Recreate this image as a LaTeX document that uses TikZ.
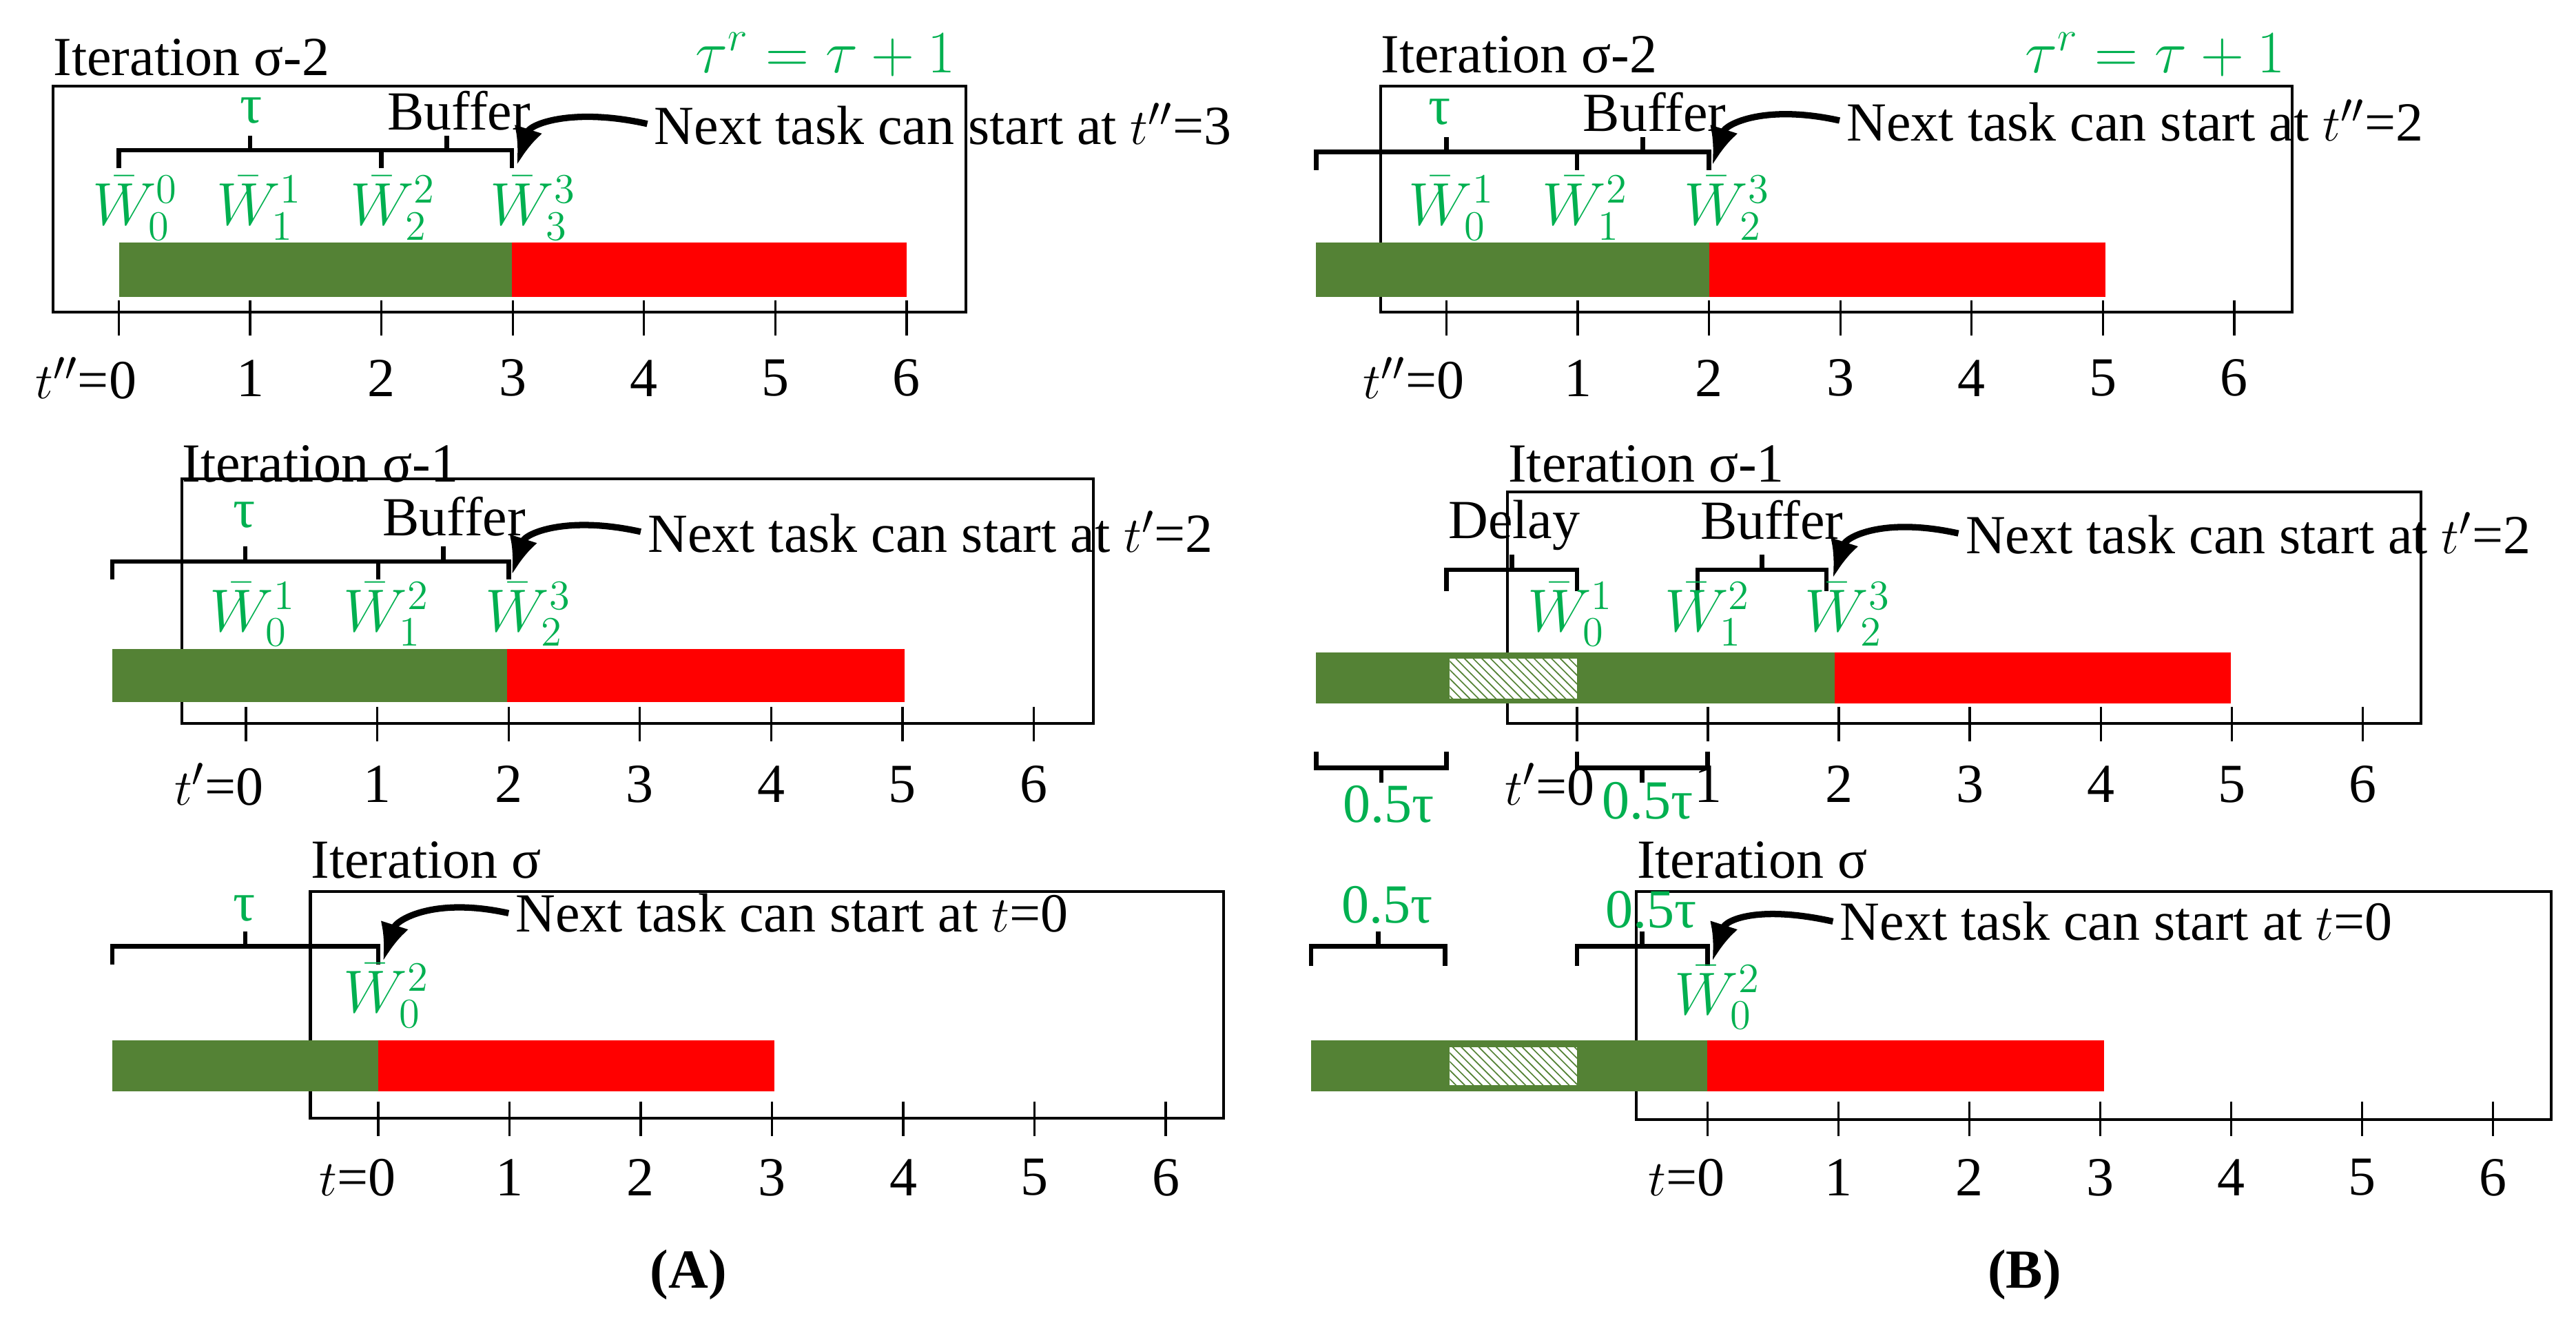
\documentclass[tikz,border=0pt]{standalone}
\usepackage{fontspec}
\setmainfont{Liberation Serif}
\usetikzlibrary{arrows.meta,patterns}
\definecolor{tg}{RGB}{0,176,80}
\definecolor{dg}{RGB}{84,130,53}
\definecolor{rd}{RGB}{255,0,0}
\tikzset{
 lbl/.style={font=\fontsize{19}{21}\selectfont, inner sep=0pt},
 gl/.style={lbl,text=tg},
 gm/.style={inner sep=0pt,text=tg,font=\fontsize{21}{23}\selectfont},
 box/.style={line width=1pt},
 br/.style={line width=1.6pt},
 tk/.style={line width=0.8pt},
 arr/.style={line width=2.2pt,-{Latex[length=13pt,width=10pt]}},
 hatch/.style={fill=white,postaction={pattern=north west lines,pattern color=dg}}
}
\newcommand\brk[4]{\draw[br] (#1,#4) -- (#1,#3) -- (#2,#3) -- (#2,#4); \draw[br] ({(#1+#2)/2},#3) -- ({(#1+#2)/2},#3-9);}
\newcommand\brkd[4]{\draw[br] (#1,#4) -- (#1,#3) -- (#2,#3) -- (#2,#4); \draw[br] ({(#1+#2)/2},#3) -- ({(#1+#2)/2},#3+9);}
\begin{document}
\begin{tikzpicture}[x=0.02cm,y=-0.02cm]
\useasboundingbox (0,0) rectangle (1560,798);
% ================= Panel A top
\node[lbl,anchor=west] (at) at (32,35) {Iteration σ-2};
\node[gm] (atr) at (500,33) {$\tau^r=\tau+1$};
\draw[box] (32,52) rectangle (585,189);
\fill[dg] (72,147) rectangle (310,180);
\fill[rd] (310,147) rectangle (549,180);
\foreach \i in {0,...,6} {\draw[tk] (72+79.5*\i,182) -- (72+79.5*\i,203);}
\foreach \i in {1,...,6} {\node[lbl] (atl\i) at (72+79.5*\i,229) {\i};}
\node[lbl,anchor=east] (atl0) at (83,229) {$t''$=0};
\brk{72}{231}{91}{102}
\brk{231}{310}{91}{102}
\node[gl] (atau) at (152,67) {τ};
\node[lbl] (abuf) at (278,67) {Buffer};
\node[gm] (aw0) at (82,126) {$\bar{W}_0^0$};
\node[gm] (aw1) at (157,126) {$\bar{W}_1^1$};
\node[gm] (aw2) at (238,126) {$\bar{W}_2^2$};
\node[gm] (aw3) at (323,126) {$\bar{W}_3^3$};
\node[lbl,anchor=west] (ant) at (396,75) {Next task can start at $t''$=3};
\coordinate (aat) at (313,100);
\draw[arr] (ant.west) ++(-4,0) .. controls +(-45,-10) and +(8,-25) .. (aat);
% ================= Panel A middle
\node[lbl,anchor=west] (am) at (110,281) {Iteration σ-1};
\draw[box] (110,290) rectangle (662,438);
\fill[dg] (68,393) rectangle (307,425);
\fill[rd] (307,393) rectangle (548,425);
\foreach \i in {0,...,6} {\draw[tk] (149+79.5*\i,428) -- (149+79.5*\i,449);}
\foreach \i in {1,...,6} {\node[lbl] (aml\i) at (149+79.5*\i,475) {\i};}
\node[lbl,anchor=east] (aml0) at (160,475) {$t'$=0};
\brk{68}{229}{340}{351}
\brk{229}{308}{340}{351}
\node[gl] (amtau) at (148,312) {τ};
\node[lbl] (ambuf) at (275,313) {Buffer};
\node[gm] (amw1) at (153,372) {$\bar{W}_0^1$};
\node[gm] (amw2) at (234,372) {$\bar{W}_1^2$};
\node[gm] (amw3) at (320,372) {$\bar{W}_2^3$};
\node[lbl,anchor=west] (amnt) at (392,322) {Next task can start at $t'$=2};
\coordinate (amat) at (310,348);
\draw[arr] (amnt.west) ++(-4,0) .. controls +(-45,-10) and +(8,-25) .. (amat);
% ================= Panel A bottom
\node[lbl,anchor=west] (ab) at (188,521) {Iteration σ};
\draw[box] (188,540) rectangle (741,677);
\fill[dg] (68,630) rectangle (229,661);
\fill[rd] (229,630) rectangle (469,661);
\foreach \i in {0,...,6} {\draw[tk] (229+79.5*\i,667) -- (229+79.5*\i,688);}
\foreach \i in {1,...,6} {\node[lbl] (abl\i) at (229+79.5*\i,713) {\i};}
\node[lbl,anchor=east] (abl0) at (240,713) {$t$=0};
\brk{68}{229}{573}{584}
\node[gl] (abtau) at (148,550) {τ};
\node[gm] (abw) at (234,603) {$\bar{W}_0^2$};
\node[lbl,anchor=west] (abnt) at (312,553) {Next task can start at $t$=0};
\coordinate (abat) at (232,582);
\draw[arr] (abnt.west) ++(-4,0) .. controls +(-45,-10) and +(8,-25) .. (abat);
% ================= Panel B top
\node[lbl,anchor=west] (bt) at (836,33) {Iteration σ-2};
\node[gm] (btr) at (1305,33) {$\tau^r=\tau+1$};
\draw[box] (836,52) rectangle (1388,189);
\fill[dg] (797,147) rectangle (1035,180);
\fill[rd] (1035,147) rectangle (1275,180);
\foreach \i in {0,...,6} {\draw[tk] (876+79.5*\i,182) -- (876+79.5*\i,203);}
\foreach \i in {1,...,6} {\node[lbl] (btl\i) at (876+79.5*\i,229) {\i};}
\node[lbl,anchor=east] (btl0) at (887,229) {$t''$=0};
\brk{797}{955}{92}{103}
\brk{955}{1035}{92}{103}
\node[gl] (btau) at (872,68) {τ};
\node[lbl] (bbuf) at (1002,68) {Buffer};
\node[gm] (bw1) at (879,126) {$\bar{W}_0^1$};
\node[gm] (bw2) at (960,126) {$\bar{W}_1^2$};
\node[gm] (bw3) at (1046,126) {$\bar{W}_2^3$};
\node[lbl,anchor=west] (bnt) at (1118,73) {Next task can start at $t''$=2};
\coordinate (bat) at (1037,100);
\draw[arr] (bnt.west) ++(-4,0) .. controls +(-45,-10) and +(8,-25) .. (bat);
% ================= Panel B middle
\node[lbl,anchor=west] (bm) at (913,281) {Iteration σ-1};
\draw[box] (913,298) rectangle (1466,438);
\fill[dg] (797,395) rectangle (1111,426);
\fill[rd] (1111,395) rectangle (1351,426);
\draw[hatch,draw=none] (878,399) rectangle (955,423);
\foreach \i in {0,...,6} {\draw[tk] (955+79.3*\i,428) -- (955+79.3*\i,449);}
\foreach \i in {1,...,6} {\node[lbl] (bml\i) at (955+79.3*\i,475) {\i};}
\node[lbl,anchor=east] (bml0) at (966,475) {$t'$=0};
\brk{876}{955}{345}{358}
\brk{1028}{1106}{345}{358}
\node[lbl] (bdel) at (917,318) {Delay};
\node[lbl] (bmbuf) at (1073,315) {Buffer};
\node[gm] (bmw1) at (951,372) {$\bar{W}_0^1$};
\node[gm] (bmw2) at (1034,372) {$\bar{W}_1^2$};
\node[gm] (bmw3) at (1119,372) {$\bar{W}_2^3$};
\brkd{797}{876}{465}{455}
\brkd{955}{1034}{465}{455}
\node[gl] (bmh1) at (841,487) {0.5τ};
\node[gl] (bmh2) at (998,485) {0.5τ};
\node[lbl,anchor=west] (bmnt) at (1190,323) {Next task can start at $t'$=2};
\coordinate (bmat) at (1110,350);
\draw[arr] (bmnt.west) ++(-4,0) .. controls +(-45,-10) and +(8,-25) .. (bmat);
% ================= Panel B bottom
\node[lbl,anchor=west] (bb) at (991,521) {Iteration σ};
\draw[box] (991,540) rectangle (1545,678);
\fill[dg] (794,630) rectangle (1034,661);
\fill[rd] (1034,630) rectangle (1274,661);
\draw[hatch,draw=none] (878,634) rectangle (955,657);
\foreach \i in {0,...,6} {\draw[tk] (1034+79.3*\i,667) -- (1034+79.3*\i,688);}
\foreach \i in {1,...,6} {\node[lbl] (bbl\i) at (1034+79.3*\i,713) {\i};}
\node[lbl,anchor=east] (bbl0) at (1045,713) {$t$=0};
\brk{794}{875}{573}{585}
\brk{955}{1034}{573}{585}
\node[gl] (bbh1) at (840,548) {0.5τ};
\node[gl] (bbh2) at (1000,551) {0.5τ};
\node[gm] (bbw) at (1040,604) {$\bar{W}_0^2$};
\node[lbl,anchor=west] (bbnt) at (1114,558) {Next task can start at $t$=0};
\coordinate (bbat) at (1037,582);
\draw[arr] (bbnt.west) ++(-4,0) .. controls +(-45,-10) and +(8,-25) .. (bbat);
% ================= captions
\node[lbl,font=\fontsize{19}{21}\selectfont\bfseries] (capa) at (417,772) {(A)};
\node[lbl,font=\fontsize{19}{21}\selectfont\bfseries] (capb) at (1226,772) {(B)};
\end{tikzpicture}
\end{document}
